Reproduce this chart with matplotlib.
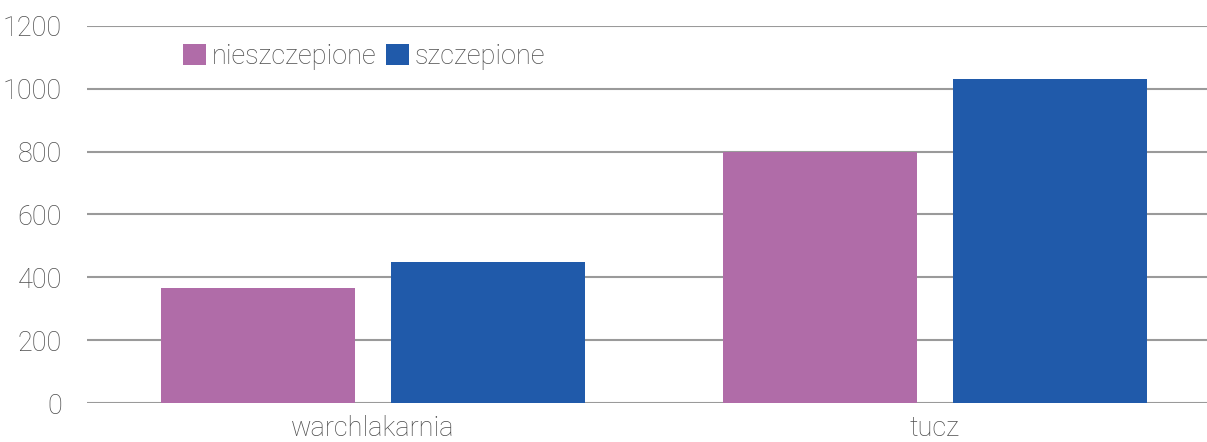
import matplotlib
matplotlib.use('Agg')
import matplotlib.pyplot as plt
import numpy as np

# Data
categories = ['warchlakarnia', 'tucz']
series_names = ['nieszczepione', 'szczepione']
nieszczepione = [367, 800]
szczepione = [450, 1030]
y_ticks = [0, 200, 400, 600, 800, 1000, 1200]

colors = ['#B06CA8', '#205AAA']
text_color = '#4d4d4d'
grid_color = '#9a9a9a'
fsize = 19.5

plt.rcParams['font.family'] = ['Roboto', 'DejaVu Sans']

fig = plt.figure(figsize=(12.07, 4.42), dpi=100)
ax = fig.add_axes([87 / 1207, 1 - 403 / 442, (1207 - 87) / 1207, (403 - 26) / 442])

x = np.arange(len(categories))
width = 0.346
offset = 0.205
ax.bar(x - offset, nieszczepione, width, color=colors[0], label=series_names[0], zorder=2)
ax.bar(x + offset, szczepione, width, color=colors[1], label=series_names[1], zorder=2)

ax.set_xlim(-0.509, 1.484)
ax.set_ylim(0, 1200)
ax.set_yticks(y_ticks)
ax.set_xticks(x)
ax.set_xticklabels(categories)

# Grid
ax.grid(axis='y', color=grid_color, linewidth=1.5, zorder=0)
ax.set_axisbelow(True)
for s in ax.spines.values():
    s.set_visible(False)
ax.tick_params(axis='both', length=0, labelsize=fsize, labelcolor=text_color)
ax.tick_params(axis='y', pad=18)
ax.tick_params(axis='x', pad=9)
for lbl in ax.get_xticklabels() + ax.get_yticklabels():
    lbl.set_fontweight('light')

# Legend
leg = ax.legend(loc='upper left', bbox_to_anchor=(0.0857, 0.955), ncol=2, frameon=False,
                fontsize=fsize, handlelength=0.85, handleheight=0.85, handletextpad=0.22,
                columnspacing=0.33, borderaxespad=0, borderpad=0)
for t in leg.get_texts():
    t.set_color(text_color)
    t.set_fontweight('light')

plt.savefig('out.png', dpi=100)
